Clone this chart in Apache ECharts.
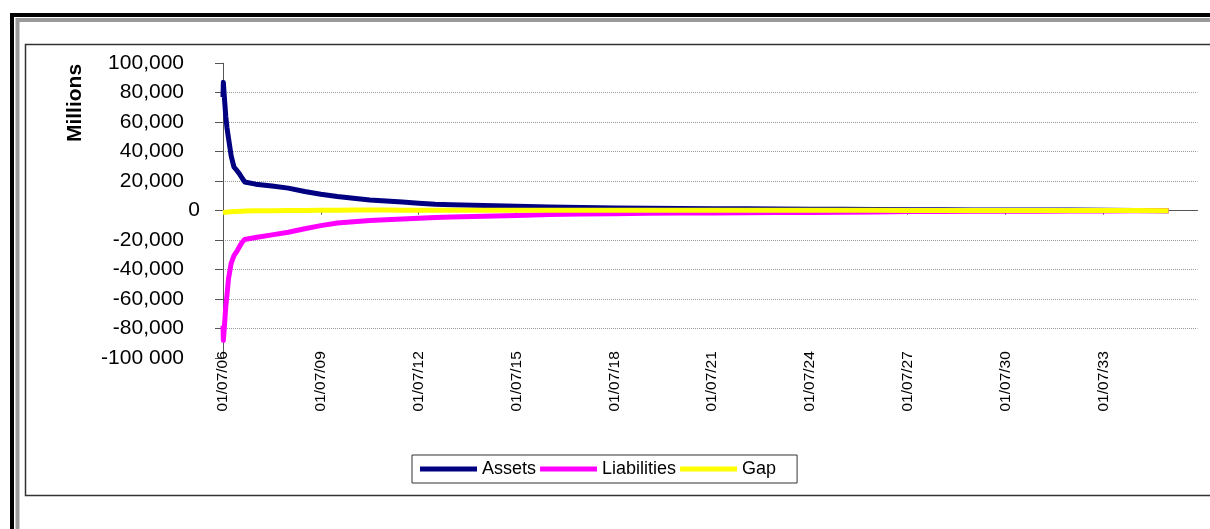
<!DOCTYPE html>
<html>
<head>
<meta charset="utf-8">
<title>Assets, Liabilities and Gap</title>
<script src="https://cdn.jsdelivr.net/npm/echarts@6/dist/echarts.min.js"></script>
<style>
  html, body { margin: 0; padding: 0; background: #ffffff; }
  #chart { width: 1210px; height: 529px; }
</style>
</head>
<body>
<div id="chart"></div>
<script>
// Cash-flow dates (dd/mm/yy labels on the axis, ISO here)
const dates = [
  '2006-07-01', '2006-07-05', '2006-07-15', '2006-08-01', '2006-08-15', '2006-09-01',
  '2006-10-01', '2006-11-01', '2006-12-01', '2007-01-01', '2007-02-01', '2007-03-01',
  '2007-07-01', '2008-01-01', '2008-07-01', '2009-01-01', '2009-07-01', '2010-01-01',
  '2010-07-01', '2011-01-01', '2011-07-01', '2012-01-01', '2012-07-01', '2013-01-01',
  '2013-07-01', '2014-07-01', '2015-07-01', '2016-07-01', '2017-07-01', '2018-07-01',
  '2019-07-01', '2020-07-01', '2021-07-01', '2022-07-01', '2023-07-01', '2024-07-01',
  '2025-07-01', '2026-07-01', '2027-07-01', '2028-07-01', '2029-07-01', '2030-07-01',
  '2031-07-01', '2032-07-01', '2033-07-01', '2034-07-01', '2035-07-01'
];

// Values in millions
const assets = [
  77000, 87000, 78000, 64000, 56000, 49000,
  37000, 29500, 27500, 25000, 22000, 19500,
  18000, 16700, 15300, 13000, 11100, 9600,
  8400, 7300, 6600, 5900, 5100, 4400,
  4000, 3600, 3000, 2500, 2200, 1900,
  1700, 1500, 1400, 1300, 1200, 1000,
  900, 800, 700, 600, 550, 500,
  450, 400, 300, 200, 50
];

const liabilities = [
  -78000, -88000, -80000, -65000, -57000, -46000,
  -35500, -30500, -27800, -24500, -21300, -19500,
  -18200, -16400, -14600, -12200, -10100, -8400,
  -7500, -6700, -6200, -5700, -5200, -4600,
  -4200, -3700, -3200, -2600, -2300, -2000,
  -1800, -1600, -1500, -1400, -1300, -1200,
  -1000, -800, -600, -500, -400, -350,
  -300, -250, -200, -100, -50
];

const gap = [
  -1400, -1200, -1100, -1000, -900, -800,
  -700, -600, -500, -400, -300, -200,
  -100, 0, 100, 200, 300, 300,
  400, 400, 400, 300, 300, 300,
  300, 300, 300, 300, 300, 300,
  300, 300, 300, 300, 300, 300,
  250, 250, 200, 200, 200, 200,
  150, 150, 100, 100, 0
];

// Axis ticks
const xTickLabels = ['01/07/06', '01/07/09', '01/07/12', '01/07/15', '01/07/18',
                     '01/07/21', '01/07/24', '01/07/27', '01/07/30', '01/07/33'];
const xTickDates = ['2006-07-01', '2009-07-01', '2012-07-01', '2015-07-01', '2018-07-01',
                    '2021-07-01', '2024-07-01', '2027-07-01', '2030-07-01', '2033-07-01'];
const xAxisEndDate = '2036-05-20';

const yTickLabels = ['-100 000', '-80,000', '-60,000', '-40,000', '-20,000', '0',
                     '20,000', '40,000', '60,000', '80,000', '100,000'];
const yMin = -100000, yMax = 100000, yStep = 20000;

// Dates are placed on a value axis measured in years from the first date.
const DAY = 86400000;
const origin = Date.parse(dates[0] + 'T00:00:00Z');
function yearsFrom(d) {
  return (Date.parse(d + 'T00:00:00Z') - origin) / (365.25 * DAY);
}
const xTickValues = xTickDates.map(yearsFrom);
const xMax = yearsFrom(xAxisEndDate);

function xLabel(v) {
  for (let i = 0; i < xTickValues.length; i++) {
    if (Math.abs(xTickValues[i] - v) < 0.05) return xTickLabels[i];
  }
  return '';
}
function pairs(vals) {
  return dates.map((d, i) => [yearsFrom(d), vals[i]]);
}

const FONT = "'Liberation Sans', Arial, Helvetica, sans-serif";
const chart = echarts.init(document.getElementById('chart'), null, { renderer: 'canvas' });

chart.setOption({
  animation: false,
  backgroundColor: '#ffffff',
  textStyle: { fontFamily: FONT, color: '#000' },
  graphic: [
    // sheet frame: black outer band and grey inner band
    { type: 'rect', z: -10, silent: true,
      shape: { x: 12, y: 15, width: 1400, height: 800 },
      style: { fill: null, stroke: '#000', lineWidth: 4 } },
    { type: 'rect', z: -10, silent: true,
      shape: { x: 17.5, y: 20, width: 1400, height: 800 },
      style: { fill: null, stroke: '#9a9a9a', lineWidth: 4 } },
    // chart area border
    { type: 'rect', z: -10, silent: true,
      shape: { x: 25.5, y: 44.5, width: 1400, height: 451 },
      style: { fill: null, stroke: '#333', lineWidth: 1.5 } },
    // vertical axis title
    { type: 'text', silent: true, x: 75, y: 103, rotation: Math.PI / 2,
      style: { text: 'Millions', font: 'bold 21px ' + FONT, fill: '#000',
               align: 'center', verticalAlign: 'middle' } }
  ],
  grid: { left: 223, right: 12.5, top: 63.2, height: 295, containLabel: false },
  legend: {
    left: 412, top: 455,
    padding: [5, 21, 5, 8],
    itemGap: 4,
    itemWidth: 57, itemHeight: 5,
    icon: 'rect',
    borderColor: '#333', borderWidth: 1,
    textStyle: { fontFamily: FONT, fontSize: 18, color: '#000', lineHeight: 18 },
    data: ['Assets', 'Liabilities', 'Gap']
  },
  xAxis: [
    {
      type: 'value', min: 0, max: xMax, interval: 3,
      axisLine: { show: true, onZero: true, lineStyle: { color: '#555', width: 1 } },
      axisTick: { show: true, inside: false, length: 4, customValues: xTickValues,
                  lineStyle: { color: '#555' } },
      axisLabel: { show: false },
      splitLine: { show: false }
    },
    {
      type: 'value', min: 0, max: xMax, interval: 3, position: 'bottom',
      axisLine: { show: false, onZero: false },
      axisTick: { show: false },
      axisLabel: {
        show: true, rotate: 90, margin: -7, customValues: xTickValues,
        fontFamily: FONT, fontSize: 15.5, color: '#000',
        formatter: xLabel
      },
      splitLine: { show: false }
    }
  ],
  yAxis: {
    type: 'value', min: yMin, max: yMax, interval: yStep,
    axisLine: { show: true, onZero: false, lineStyle: { color: '#555', width: 1 } },
    axisTick: { show: true, inside: false, length: 8, lineStyle: { color: '#555' } },
    splitLine: {
      show: true, showMinLine: false, showMaxLine: false,
      lineStyle: { color: '#9a9a9a', width: 1, type: [1, 1] }
    },
    axisLabel: {
      margin: 23,
      fontFamily: FONT, fontSize: 21, color: '#000',
      formatter: function (v) {
        const lbl = yTickLabels[Math.round((v - yMin) / yStep)];
        return v === 0 ? '{z|' + lbl + '}' : '{n|' + lbl + '}';
      },
      rich: {
        n: { fontFamily: FONT, fontSize: 21, color: '#000', padding: [0, 16, 0, 0] },
        z: { fontFamily: FONT, fontSize: 21, color: '#000' }
      }
    }
  },
  series: [
    {
      name: 'Assets', type: 'line', xAxisIndex: 0, data: pairs(assets),
      showSymbol: false, symbol: 'none', color: '#000080',
      lineStyle: { width: 5, color: '#000080', cap: 'butt', join: 'round' }
    },
    {
      name: 'Liabilities', type: 'line', xAxisIndex: 0, data: pairs(liabilities),
      showSymbol: false, symbol: 'none', color: '#ff00ff',
      lineStyle: { width: 5, color: '#ff00ff', cap: 'butt', join: 'round' }
    },
    {
      name: 'Gap', type: 'line', xAxisIndex: 0, data: pairs(gap),
      showSymbol: false, symbol: 'none', color: '#ffff00',
      lineStyle: { width: 5, color: '#ffff00', cap: 'butt', join: 'round' }
    }
  ]
});
</script>
</body>
</html>
